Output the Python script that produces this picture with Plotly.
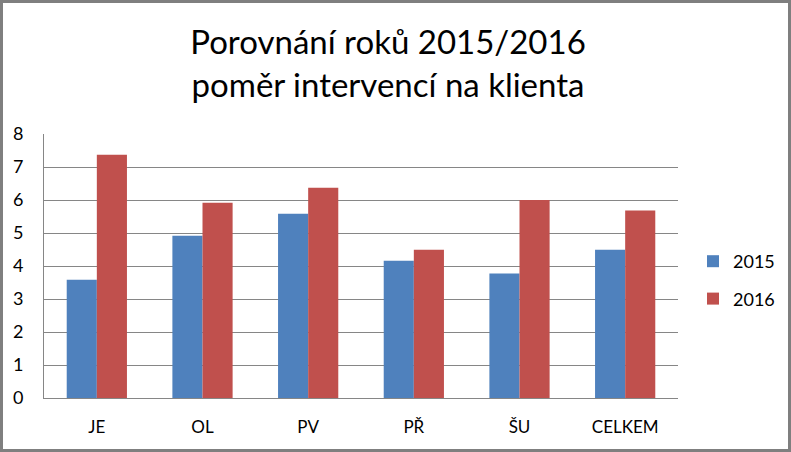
import plotly.graph_objects as go

categories = ["JE", "OL", "PV", "PŘ", "ŠU", "CELKEM"]
values_2015 = [3.58, 4.92, 5.58, 4.16, 3.77, 4.49]
values_2016 = [7.37, 5.92, 6.37, 4.49, 6.0, 5.68]
y_ticks = [0, 1, 2, 3, 4, 5, 6, 7, 8]

W, H = 791, 452
L, R, T, B = 44, 113, 134, 54
pw, ph = W - L - R, H - T - B

font_main = "Lato, Open Sans, sans-serif"

fig = go.Figure()
fig.add_trace(go.Bar(name="2015", x=categories, y=values_2015, marker_color="#4F81BD",
                     marker_line_width=0, legendgroup="a"))
fig.add_trace(go.Bar(name="2016", x=categories, y=values_2016, marker_color="#C0504D",
                     marker_line_width=0, legendgroup="b"))

fig.update_layout(
    width=W, height=H, autosize=False,
    margin=dict(l=L, r=R, t=T, b=B, autoexpand=False),
    paper_bgcolor="white", plot_bgcolor="white",
    barmode="group", bargap=0.43, bargroupgap=0,
    title=dict(text="Porovnání roků 2015/2016<br>poměr intervencí na klienta",
               x=388 / W, xref="container", xanchor="center", y=0.88, yanchor="middle",
               font=dict(family=font_main, size=33, color="black")),
    legend=dict(x=(693 - L) / pw, xanchor="left", y=(398 - 280) / ph, yanchor="middle",
                font=dict(family=font_main, size=18, color="black"),
                tracegroupgap=11, itemwidth=30, bgcolor="rgba(0,0,0,0)"),
    showlegend=True,
    xaxis=dict(showline=True, linecolor="#868686", linewidth=1, ticks="",
               ticklabelstandoff=14, automargin=False,
               tickfont=dict(family=font_main, size=17, color="black"), showgrid=False),
    yaxis=dict(range=[0, 8], tickvals=y_ticks, showgrid=True, gridcolor="#868686", gridwidth=1,
               showline=True, linecolor="#868686", linewidth=1, zeroline=False,
               ticks="", ticklen=0, ticklabelstandoff=16, automargin=False,
               tickfont=dict(family=font_main, size=18, color="black")),
    shapes=[dict(type="rect", xref="paper", yref="paper",
                 x0=-L / pw + 1.5 / pw, x1=(pw + R - 1.5) / pw,
                 y0=-B / ph + 1.5 / ph, y1=(ph + T - 1.5) / ph,
                 line=dict(color="#7F7F7F", width=3), fillcolor="rgba(0,0,0,0)")],
)

fig.write_html("out.html", config={"displayModeBar": False},
               post_script="document.body.style.margin='0';document.body.style.padding='0';document.body.style.overflow='hidden';")
